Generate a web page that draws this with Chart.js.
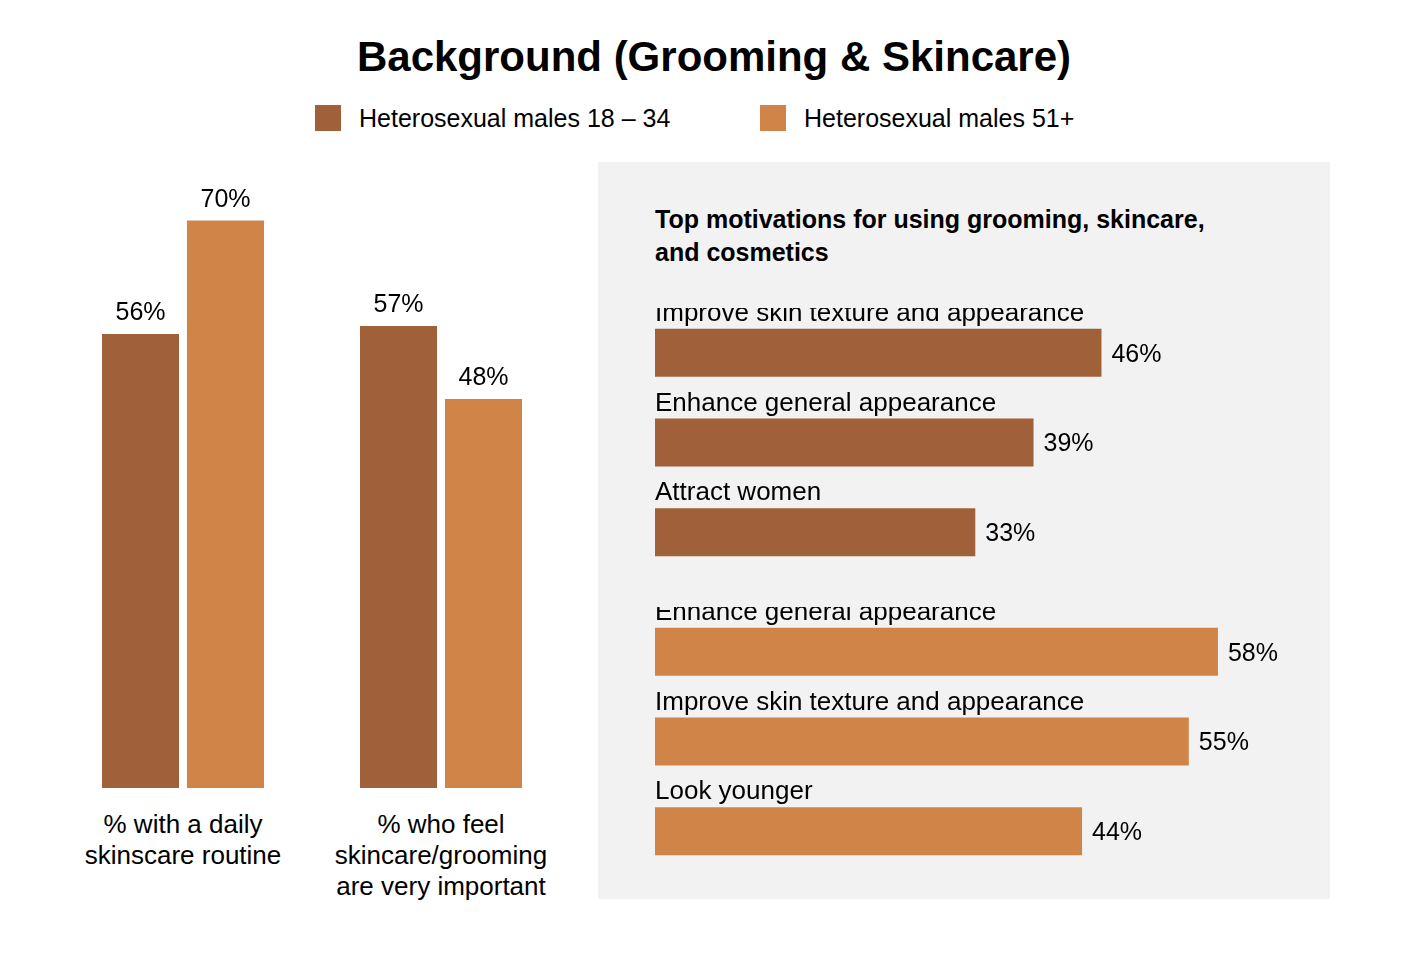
<!DOCTYPE html>
<html>
<head>
<meta charset="utf-8">
<script src="https://cdn.jsdelivr.net/npm/chart.js@4/dist/chart.umd.min.js"></script>
<style>
  body { margin: 0; background: #fff; font-family: "Liberation Sans", Arial, sans-serif; }
  #page { position: relative; width: 1428px; height: 968px; }
  .abs { position: absolute; }
  #title { left: 0; width: 1428px; top: 33px; text-align: center; font-weight: bold; font-size: 42px; }
  .sw { width: 26px; height: 26px; }
  .lg { font-size: 25px; line-height: 26px; }
  .xl { width: 258px; text-align: center; font-size: 26px; line-height: 31px; }
  #panel { left: 598px; top: 162px; width: 732px; height: 737px; background: #f2f2f2; }
  #sub { left: 655px; top: 203px; font-weight: bold; font-size: 25px; line-height: 33px; }
</style>
</head>
<body>
<div id="page">
  <div id="title" class="abs">Background (Grooming &amp; Skincare)</div>
  <div class="abs sw" style="left:315px;top:105px;background:#A0603A"></div>
  <div class="abs lg" style="left:359px;top:105px">Heterosexual males 18 – 34</div>
  <div class="abs sw" style="left:760px;top:105px;background:#D08448"></div>
  <div class="abs lg" style="left:804px;top:105px">Heterosexual males 51+</div>

  <canvas id="left" class="abs" width="516" height="608" style="left:54px;top:180px"></canvas>
  <div class="abs xl" style="left:54px;top:809px">% with a daily<br>skinscare routine</div>
  <div class="abs xl" style="left:312px;top:809px">% who feel<br>skincare/grooming<br>are very important</div>

  <div id="panel" class="abs"></div>
  <div id="sub" class="abs">Top motivations for using grooming, skincare,<br>and cosmetics</div>
  <canvas id="young" class="abs" width="660" height="269" style="left:655px;top:308px"></canvas>
  <canvas id="old" class="abs" width="660" height="269" style="left:655px;top:607px"></canvas>
</div>
<script>
const corJovem = "#A0603A";
const corVelho = "#D08448";

// dados do gráfico da esquerda
const categoriasEsq = ["daily", "important"];
const jovensEsq = [56, 57];
const velhosEsq = [70, 48];

// dados das motivações
const motivosJovens = ["Improve skin texture and appearance", "Enhance general appearance", "Attract women"];
const valoresJovens = [46, 39, 33];
const motivosVelhos = ["Enhance general appearance", "Improve skin texture and appearance", "Look younger"];
const valoresVelhos = [58, 55, 44];

const fonte = "Liberation Sans, Arial, sans-serif";

// rótulos de porcentagem acima das barras verticais
const rotulosVerticais = {
  id: "rotulosVerticais",
  afterDatasetsDraw(chart) {
    const ctx = chart.ctx;
    ctx.save();
    ctx.font = "25px " + fonte;
    ctx.fillStyle = "#000";
    ctx.textAlign = "center";
    ctx.textBaseline = "bottom";
    chart.data.datasets.forEach((ds, i) => {
      chart.getDatasetMeta(i).data.forEach((bar, j) => {
        ctx.fillText(ds.data[j] + "%", bar.x, bar.y - 8);
      });
    });
    ctx.restore();
  },
};

// rótulos das barras horizontais: categoria acima, valor à direita
const rotulosHorizontais = {
  id: "rotulosHorizontais",
  afterDatasetsDraw(chart) {
    const ctx = chart.ctx;
    ctx.save();
    ctx.fillStyle = "#000";
    const ds = chart.data.datasets[0];
    chart.getDatasetMeta(0).data.forEach((bar, j) => {
      ctx.font = "26px " + fonte;
      ctx.textAlign = "left";
      ctx.textBaseline = "alphabetic";
      ctx.fillText(chart.data.labels[j], 0, bar.y - 32);
      ctx.font = "25px " + fonte;
      ctx.textBaseline = "middle";
      ctx.fillText(ds.data[j] + "%", bar.x + 10, bar.y + 2);
    });
    ctx.restore();
  },
};

new Chart(document.getElementById("left"), {
  type: "bar",
  data: {
    labels: categoriasEsq,
    datasets: [
      { data: jovensEsq, backgroundColor: corJovem },
      { data: velhosEsq, backgroundColor: corVelho },
    ],
  },
  options: {
    responsive: false,
    animation: false,
    layout: { padding: 0 },
    categoryPercentage: 0.659,
    barPercentage: 0.906,
    scales: {
      x: { display: false },
      y: { display: false, min: 0, max: 75 },
    },
    plugins: { legend: { display: false }, tooltip: { enabled: false } },
  },
  plugins: [rotulosVerticais],
});

function graficoMotivos(id, labels, valores, cor) {
  new Chart(document.getElementById(id), {
    type: "bar",
    data: { labels: labels, datasets: [{ data: valores, backgroundColor: cor }] },
    options: {
      indexAxis: "y",
      responsive: false,
      animation: false,
      layout: { padding: 0 },
      categoryPercentage: 1,
      barPercentage: 0.536,
      scales: {
        x: { display: false, min: 0, max: 68 },
        y: { display: false },
      },
      plugins: { legend: { display: false }, tooltip: { enabled: false } },
    },
    plugins: [rotulosHorizontais],
  });
}

graficoMotivos("young", motivosJovens, valoresJovens, corJovem);
graficoMotivos("old", motivosVelhos, valoresVelhos, corVelho);
</script>
</body>
</html>
